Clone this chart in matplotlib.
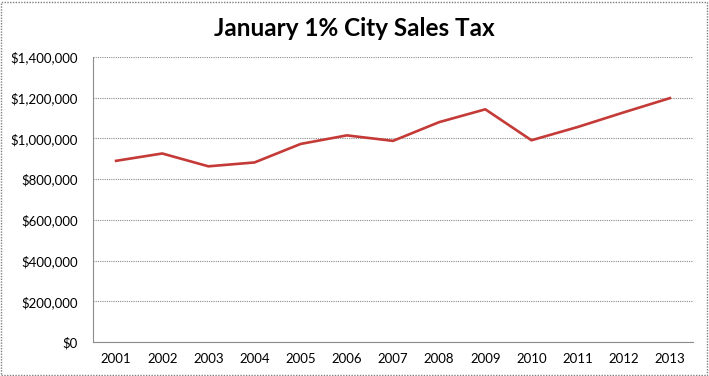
import matplotlib
matplotlib.use("Agg")
import matplotlib.pyplot as plt
from matplotlib.patches import Rectangle
from matplotlib.ticker import FuncFormatter, MultipleLocator

# Data
years = ["2001", "2002", "2003", "2004", "2005", "2006", "2007",
         "2008", "2009", "2010", "2011", "2012", "2013"]
sales_tax = [890000, 926000, 863000, 882000, 973000, 1015000, 988000,
             1080000, 1143000, 991000, 1056000, 1128000, 1198000]

plt.rcParams['font.family'] = ['Lato', 'DejaVu Sans']

fig = plt.figure(figsize=(7.09, 3.76), dpi=100)
ax = fig.add_axes([93 / 709, 1 - 342 / 376, 600 / 709, 285 / 376])

x = list(range(len(years)))
ax.plot(x, sales_tax, color="#C43A37", linewidth=1.9, solid_joinstyle="round")

ax.set_xlim(-0.5, len(years) - 0.5)
ax.set_ylim(0, 1400000)
ax.yaxis.set_major_locator(MultipleLocator(200000))
ax.yaxis.set_major_formatter(FuncFormatter(lambda v, p: "${:,.0f}".format(v)))
ax.set_xticks(x)
ax.set_xticklabels(years)

ax.grid(axis="y", color="#8c8c8c", linestyle=(0, (1, 1)), linewidth=0.8)
ax.set_axisbelow(True)
for side in ["top", "right"]:
    ax.spines[side].set_visible(False)
for side in ["left", "bottom"]:
    ax.spines[side].set_color("#8c8c8c")
    ax.spines[side].set_linestyle((0, (1, 1)))
    ax.spines[side].set_linewidth(0.8)
ax.tick_params(axis="both", length=0, labelsize=9.5, colors="black", pad=8)
ax.tick_params(axis="y", pad=11)

fig.text(0.5, 1 - 28 / 376, "January 1% City Sales Tax", ha="center", va="center",
         fontsize=17.5, fontweight="bold")

# dotted border around the chart
fig.patches.append(Rectangle((0.002, 0.003), 0.995, 0.993, transform=fig.transFigure,
                             fill=False, edgecolor="#7f7f7f", linewidth=1.0,
                             linestyle=(0, (1, 1))))

fig.savefig("out.png", dpi=100)
